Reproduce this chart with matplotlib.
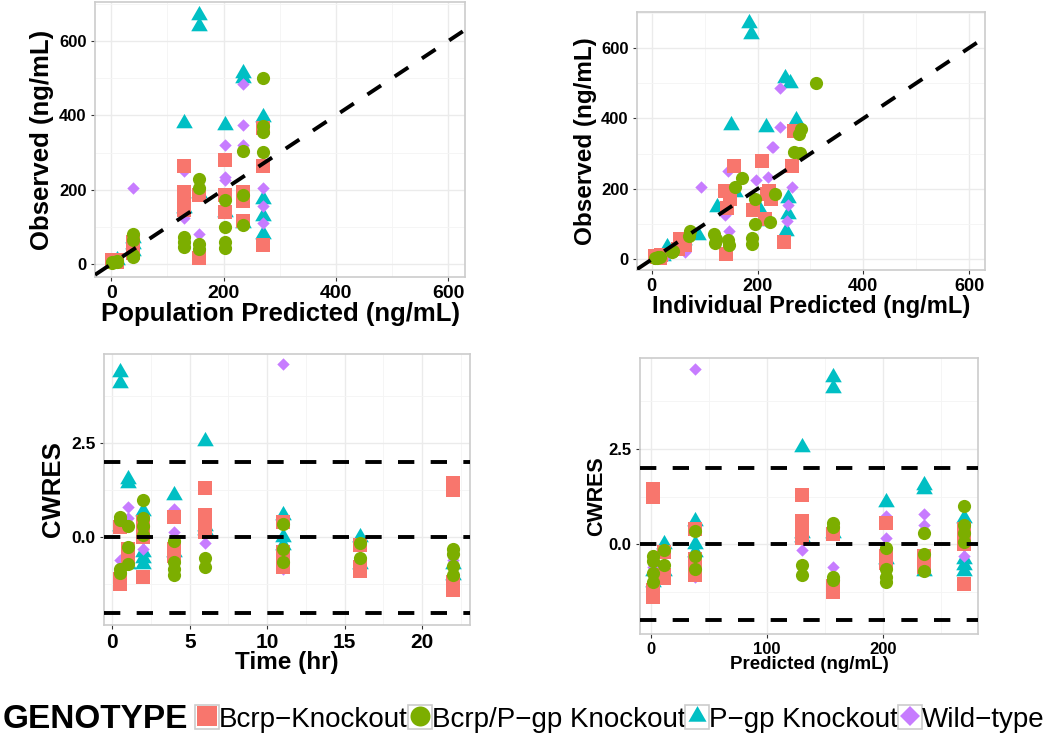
import matplotlib
matplotlib.use("Agg")
import matplotlib.pyplot as plt
from matplotlib.lines import Line2D
from matplotlib.patches import Rectangle
from matplotlib.legend_handler import HandlerTuple
from matplotlib.ticker import MultipleLocator, FormatStrFormatter

plt.rcParams["font.family"] = ["Liberation Sans", "DejaVu Sans"]

GENOTYPES = ["Bcrp\u2212Knockout", "Bcrp/P\u2212gp Knockout", "P\u2212gp Knockout", "Wild\u2212type"]
COLORS = ["#F8766D", "#7CAE00", "#00BFC4", "#C77CFF"]

# population prediction (ng/mL) at each sampling time (hr)
PRED_TIME = [0.5, 1, 2, 4, 6, 11, 16, 22]
PRED_VALUE = [157, 235, 270, 202, 130, 38, 11, 2]

# observations: sampling time, observed conc, individual prediction
bcrp_time = [22, 22, 16, 16, 11, 11, 11, 6, 6, 6, 6, 0.5, 0.5, 4, 4, 4, 1, 1, 1, 2, 2, 2]
bcrp_dv = [10, 5, 12, 6, 58, 42, 30, 265, 195, 170, 145, 185, 15, 280, 185, 140, 195, 170, 115, 265, 365, 50]
bcrp_ipred = [6, 15, 18, 10, 54, 63, 50, 156, 138, 148, 142, 222, 140, 208, 218, 192, 222, 225, 214, 265, 268, 250]

dko_time = [22, 22, 16, 16, 11, 11, 11, 11, 6, 6, 6, 0.5, 0.5, 0.5, 0.5, 4, 4, 4, 4, 1, 1, 1, 2, 2, 2, 2]
dko_dv = [5, 3, 6, 8, 80, 65, 25, 20, 72, 58, 47, 230, 205, 55, 40, 172, 100, 60, 43, 305, 185, 105, 500, 370, 355, 302]
dko_ipred = [6, 10, 12, 15, 72, 70, 40, 38, 118, 122, 120, 170, 158, 144, 146, 195, 195, 189, 190, 268, 233, 224, 311, 282, 279, 280]

pgp_time = [22, 16, 11, 11, 11, 6, 6, 0.5, 0.5, 0.5, 4, 4, 1, 1, 1, 2, 2, 2, 2]
pgp_dv = [5, 10, 70, 55, 35, 380, 150, 670, 640, 190, 375, 140, 515, 500, 110, 395, 175, 130, 80]
pgp_ipred = [10, 22, 88, 60, 28, 149, 123, 183, 187, 158, 216, 205, 252, 262, 216, 273, 258, 257, 254]

wt_time = [22, 16, 11, 11, 6, 6, 0.5, 4, 4, 4, 1, 1, 1, 1, 2, 2, 2]
wt_dv = [3, 8, 205, 20, 250, 125, 80, 320, 235, 225, 485, 375, 320, 175, 205, 155, 110]
wt_ipred = [5, 25, 93, 62, 144, 139, 146, 227, 220, 197, 243, 243, 230, 225, 265, 258, 255]

# conditional weighted residuals: sampling time, CWRES
bcrp_res_time = [0.5, 0.5, 0.5, 1, 1, 1, 2, 2, 2, 2, 4, 4, 4, 6, 6, 6, 6, 11, 11, 11, 11, 16, 16, 16, 22, 22, 22, 22]
bcrp_cwres = [0.28, -1.1, -1.25, -0.3, -0.5, -0.6, 0.4, 0.15, 0.0, -1.05, 0.55, -0.3, -0.5, 1.3, 0.6, 0.4, 0.15,
              0.4, -0.4, -0.6, -0.8, -0.2, -0.8, -0.9, 1.45, 1.25, -1.2, -1.4]

dko_res_time = [0.5, 0.5, 0.5, 0.5, 1, 1, 1, 2, 2, 2, 2, 4, 4, 4, 4, 6, 6, 11, 11, 11, 16, 16, 22, 22, 22, 22]
dko_cwres = [0.55, 0.45, -0.85, -0.95, 0.3, -0.25, -0.7, 1.0, 0.5, 0.3, 0.05, -0.1, -0.65, -0.85, -1.0,
             -0.55, -0.8, 0.35, -0.3, -0.65, -0.15, -0.55, -0.3, -0.45, -0.75, -1.0]

pgp_res_time = [0.5, 0.5, 0.5, 1, 1, 1, 2, 2, 2, 2, 4, 4, 6, 6, 6, 11, 11, 11, 16, 16, 22, 22]
pgp_cwres = [4.4, 4.1, 0.3, 1.55, 1.45, -0.7, 0.7, -0.4, -0.55, -0.7, 1.12, -0.4, 2.55, 0.3, 0.2,
             0.6, 0.0, -0.2, 0.0, -0.7, -0.7, -1.0]

wt_res_time = [0.5, 1, 1, 2, 4, 4, 6, 11, 11, 16, 22]
wt_cwres = [-0.6, 0.8, 0.5, -0.3, 0.75, 0.15, -0.15, 4.6, -0.85, -0.9, -0.6]

TRIANGLE = [(0, 0.577), (-0.5, -0.289), (0.5, -0.289), (0, 0.577)]
MARKERS = ["s", "o", TRIANGLE, "D"]
SIZES = [95, 90, 190, 40]
ZORDER = [4, 5, 2, 3]

obs = [(bcrp_time, bcrp_dv, bcrp_ipred), (dko_time, dko_dv, dko_ipred),
       (pgp_time, pgp_dv, pgp_ipred), (wt_time, wt_dv, wt_ipred)]
res = [(bcrp_res_time, bcrp_cwres), (dko_res_time, dko_cwres),
       (pgp_res_time, pgp_cwres), (wt_res_time, wt_cwres)]

pred_at = dict(zip(PRED_TIME, PRED_VALUE))


def style_axes(ax, xmaj, ymaj, xfs, yfs, yfmt=None):
    ax.set_facecolor("white")
    for s in ax.spines.values():
        s.set_color("#CCCCCC")
        s.set_linewidth(1.2)
    ax.xaxis.set_major_locator(MultipleLocator(xmaj))
    ax.xaxis.set_minor_locator(MultipleLocator(xmaj / 2))
    ax.yaxis.set_major_locator(MultipleLocator(ymaj))
    ax.yaxis.set_minor_locator(MultipleLocator(ymaj / 2))
    if yfmt:
        ax.yaxis.set_major_formatter(FormatStrFormatter(yfmt))
    ax.grid(which="major", color="#EBEBEB", lw=1.0, zorder=0)
    ax.grid(which="minor", color="#F4F4F4", lw=0.6, zorder=0)
    ax.set_axisbelow(True)
    ax.tick_params(which="major", length=3, width=0.8, color="#333333", pad=3)
    ax.tick_params(which="minor", length=0)
    for lab in ax.get_xticklabels():
        lab.set_fontsize(xfs)
        lab.set_fontweight("bold")
    for lab in ax.get_yticklabels():
        lab.set_fontsize(yfs)
        lab.set_fontweight("bold")


fig = plt.figure(figsize=(10.56, 7.34), dpi=100)
ax1 = fig.add_axes([0.090, 0.6226, 0.3504, 0.3747])
ax2 = fig.add_axes([0.6032, 0.6322, 0.3295, 0.3515])
ax3 = fig.add_axes([0.0985, 0.1485, 0.3466, 0.3692])
ax4 = fig.add_axes([0.6061, 0.1362, 0.3201, 0.3760])

for i in range(4):
    t, dv, ipred = obs[i]
    rt, cw = res[i]
    kw = dict(c=COLORS[i], marker=MARKERS[i], s=SIZES[i], linewidths=0, zorder=ZORDER[i])
    ax1.scatter([pred_at[v] for v in t], dv, **kw)
    ax2.scatter(ipred, dv, **kw)
    ax3.scatter(rt, cw, **kw)
    ax4.scatter([pred_at[v] for v in rt], cw, **kw)

dash = dict(color="black", lw=2.8, dashes=(4.2, 4.2), zorder=6)
for ax in (ax1, ax2):
    ax.axline((0, 0), slope=1, **dash)
for ax in (ax3, ax4):
    for h in (-2, 0, 2):
        ax.axhline(h, **dash)

ax1.set_xlim(-29, 630)
ax1.set_ylim(-35, 705)
ax2.set_xlim(-28, 630)
ax2.set_ylim(-30, 702)
ax3.set_xlim(-0.54, 23.1)
ax3.set_ylim(-2.33, 4.87)
ax4.set_xlim(-9.5, 281.7)
ax4.set_ylim(-2.36, 4.89)

style_axes(ax1, 200, 200, 14, 12)
style_axes(ax2, 200, 200, 13, 12)
style_axes(ax3, 5, 2.5, 15, 12.5, "%.1f")
style_axes(ax4, 100, 2.5, 12, 12, "%.1f")

ax1.set_xlabel("Population Predicted (ng/mL)", fontsize=18.5, fontweight="bold")
ax1.set_ylabel("Observed (ng/mL)", fontsize=18.5, fontweight="bold")
ax2.set_xlabel("Individual Predicted (ng/mL)", fontsize=17, fontweight="bold")
ax2.set_ylabel("Observed (ng/mL)", fontsize=17.5, fontweight="bold")
ax3.set_xlabel("Time (hr)", fontsize=17.5, fontweight="bold")
ax3.set_ylabel("CWRES", fontsize=18.5, fontweight="bold")
ax4.set_xlabel("Predicted (ng/mL)", fontsize=13.5, fontweight="bold")
ax4.set_ylabel("CWRES", fontsize=15.5, fontweight="bold")

ax1.xaxis.set_label_coords(0.5, -0.091)
ax2.xaxis.set_label_coords(0.5, -0.097)
ax3.xaxis.set_label_coords(0.5, -0.096)
ax4.xaxis.set_label_coords(0.5, -0.080)
ax1.yaxis.set_label_coords(-0.11, 0.5)
ax2.yaxis.set_label_coords(-0.115, 0.5)
ax3.yaxis.set_label_coords(-0.107, 0.5)
ax4.yaxis.set_label_coords(-0.098, 0.5)

# legend
leg_sizes = [13.7, 14.4, 15, 10]
handles = []
for i in range(4):
    box = Rectangle((0, 0), 1, 1, facecolor="white", edgecolor="#CCCCCC", lw=1.2)
    mk = Line2D([], [], ls="none", marker=MARKERS[i], color=COLORS[i], markersize=leg_sizes[i],
                markeredgewidth=0)
    handles.append((box, mk))

fig.text(3 / 1056, 1 - 719 / 734, "GENOTYPE", fontsize=24, fontweight="bold", va="center", ha="left")
fig.legend(handles, GENOTYPES, handler_map={tuple: HandlerTuple(ndivide=1, pad=0)},
           loc="center left", bbox_to_anchor=(195 / 1056, 1 - 719 / 734), ncol=4,
           frameon=False, fontsize=20, handlelength=0.86, handleheight=0.97,
           handletextpad=0.0, columnspacing=0.0, borderpad=0, borderaxespad=0)

fig.savefig("out.png", dpi=100)
